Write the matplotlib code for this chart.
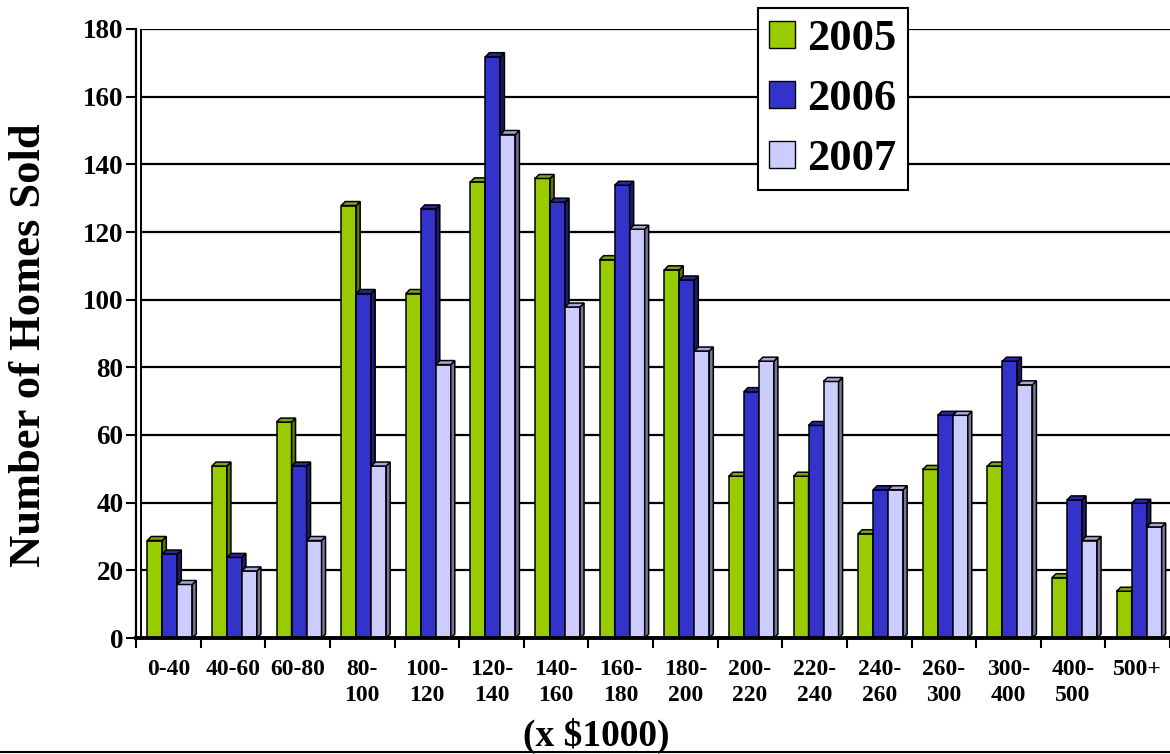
import matplotlib
matplotlib.use("Agg")
import matplotlib.pyplot as plt
from matplotlib.patches import Polygon, Patch
from matplotlib.lines import Line2D
import numpy as np

plt.rcParams['font.family'] = ['Liberation Serif', 'DejaVu Serif']
plt.rcParams['font.weight'] = 'bold'

# price ranges (x $1000)
categories = ['0-40', '40-60', '60-80', '80-\n100', '100-\n120', '120-\n140',
              '140-\n160', '160-\n180', '180-\n200', '200-\n220', '220-\n240',
              '240-\n260', '260-\n300', '300-\n400', '400-\n500', '500+']
years = ['2005', '2006', '2007']
sold_2005 = [30, 52, 65, 129, 103, 136, 137, 113, 110, 49, 49, 32, 51, 52, 19, 15]
sold_2006 = [26, 25, 52, 103, 128, 173, 130, 135, 107, 74, 64, 45, 67, 83, 42, 41]
sold_2007 = [17, 21, 30, 52, 82, 150, 99, 122, 86, 83, 77, 45, 67, 76, 30, 34]
y_ticks = [0, 20, 40, 60, 80, 100, 120, 140, 160, 180]

# front / top / side colours
front = ['#99CC00', '#3333CC', '#CCCCFF']
top = ['#7FA600', '#2626A6', '#A8A8D6']
side = ['#5A7800', '#1C1C70', '#767696']

W, H = 1170, 754
fig = plt.figure(figsize=(W / 100, H / 100), dpi=100)
ax = fig.add_axes([136 / W, 1 - 638 / H, (1170 - 136) / W, (638 - 29) / H])

ax.set_xlim(-0.5, len(categories) - 0.5)
ax.set_ylim(0, 180)

# fake 3D depth
dx = 4 / 64.6
dy = 4 / 3.383
w = 0.232
shift = 0.023

# gridlines on back wall
ax.hlines(y_ticks[1:], -0.5 + 5 / 64.6, len(categories) - 0.5, colors='black',
          lw=1.6, zorder=1)
ax.axvline(-0.5 + 5 / 64.6, color='black', lw=1.4, zorder=1)

idx = np.arange(len(categories))
for k, vals in enumerate([sold_2005, sold_2006, sold_2007]):
    vals = np.array(vals, dtype=float)
    xs = idx + (k - 1) * w + shift
    ax.bar(xs, vals - dy, width=w, color=front[k], edgecolor='black', lw=1.1,
           zorder=3 + k)
    for x, v in zip(xs, vals):
        xl, xr = x - w / 2, x + w / 2
        ax.add_patch(Polygon([(xr, 0), (xr + dx, dy), (xr + dx, v), (xr, v - dy)],
                             closed=True, fc=side[k], ec='black', lw=1.1, zorder=3 + k))
        ax.add_patch(Polygon([(xl, v - dy), (xl + dx, v), (xr + dx, v), (xr, v - dy)],
                             closed=True, fc=top[k], ec='black', lw=1.1, zorder=3 + k))

# axes styling
for s in ['top', 'right']:
    ax.spines[s].set_visible(False)
ax.spines['left'].set_linewidth(1.6)
ax.spines['bottom'].set_linewidth(2.8)
ax.spines['bottom'].set_zorder(10)

ax.set_yticks(y_ticks)
ax.tick_params(axis='y', length=7, width=1.5, pad=2, labelsize=19.5)

ax.set_xticks(np.arange(-0.5, len(categories), 1.0))
ax.set_xticklabels([])
ax.tick_params(axis='x', which='major', length=7.5, width=1.5, direction='out')
ax.set_xticks(idx, minor=True)
ax.set_xticklabels(categories, minor=True, fontsize=17, fontweight='bold',
                   linespacing=1.35)
ax.tick_params(axis='x', which='minor', length=0, pad=15)

for lab in ax.get_yticklabels():
    lab.set_fontweight('bold')

fig.text(29 / W, 1 - 345 / H, 'Number of Homes Sold', rotation=90, ha='center',
         va='center', fontsize=32, fontweight='bold')
fig.text(596 / W, 1 - 736 / H, '(x $1000)', ha='center', va='center',
         fontsize=27, fontweight='bold')

# legend
handles = [Patch(facecolor=front[k], edgecolor='black', lw=1.0) for k in range(3)]
leg = ax.legend(handles, years, loc='upper left',
                bbox_to_anchor=(758 / W, 1 - 8 / H), bbox_transform=fig.transFigure,
                prop={'size': 32, 'weight': 'bold'}, handlelength=0.58,
                handleheight=0.58, handletextpad=0.28, labelspacing=0.45,
                borderpad=0.25, borderaxespad=0, fancybox=False, framealpha=1)
leg.get_frame().set_edgecolor('black')
leg.get_frame().set_linewidth(1.5)
leg.set_zorder(20)

# line along the bottom of the image
fig.add_artist(Line2D([0, 1], [1 - 752 / H, 1 - 752 / H], transform=fig.transFigure,
                      color='black', lw=1.5))

fig.savefig('out.png', dpi=100)
